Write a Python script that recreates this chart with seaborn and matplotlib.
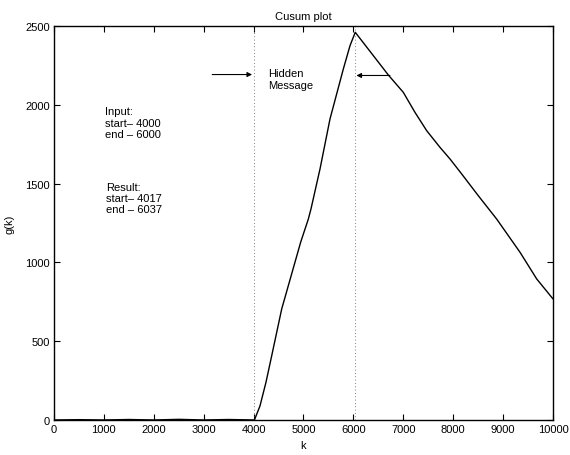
import matplotlib
matplotlib.use("Agg")
import matplotlib.pyplot as plt
import seaborn as sns
import pandas as pd

# ---- data ----
k_vals = [0, 500, 1000, 1500, 2000, 2500, 3000, 3500, 4017,
          4128, 4248, 4349, 4563, 4944, 5097, 5150, 5331, 5531, 5798, 5932, 6037,
          6700, 7000, 7234, 7468, 7735, 7936, 8170, 8503, 8871, 9339, 9673, 10000]
g_vals = [0, 2, 0, 3, 0, 4, 0, 3, 0,
          89, 239, 387, 704, 1129, 1275, 1339, 1593, 1910, 2227, 2375, 2460,
          2189, 2079, 1952, 1836, 1730, 1656, 1561, 1423, 1275, 1064, 895, 768]
marker_lines = [4017, 6037]
x_ticks = [0, 1000, 2000, 3000, 4000, 5000, 6000, 7000, 8000, 9000, 10000]
y_ticks = [0, 500, 1000, 1500, 2000, 2500]
input_text = "Input:\nstart\u2013 4000\nend \u2013 6000"
result_text = "Result:\nstart\u2013 4017\nend \u2013 6037"

sns.set_style("white")
plt.rcParams['font.family'] = ['Liberation Sans', 'DejaVu Sans']
plt.rcParams['text.color'] = 'black'
plt.rcParams['axes.labelcolor'] = 'black'

df = pd.DataFrame({"k": k_vals, "g": g_vals})

fig = plt.figure(figsize=(5.7, 4.56), dpi=100)
ax = fig.add_axes([0.0947, 0.0768, 0.8755, 0.864])

for m in marker_lines:
    ax.plot([m, m], [0, 2500], linestyle=(0, (1, 3)), color="#555555", lw=0.6, zorder=1)

sns.lineplot(data=df, x="k", y="g", ax=ax, color="black", lw=1.0, zorder=3)

ax.set_xlim(0, 10000)
ax.set_ylim(0, 2500)
ax.set_xticks(x_ticks)
ax.set_yticks(y_ticks)
ax.tick_params(direction="in", length=4, width=0.8, labelsize=8, top=True, right=True,
               bottom=True, left=True, colors="black", labelcolor="black", pad=3)
for s in ax.spines.values():
    s.set_visible(True)
    s.set_color("black")
    s.set_linewidth(1.0)

ax.set_title("Cusum plot", fontsize=8, pad=5, color="black")
ax.set_xlabel("k", fontsize=8, labelpad=4)
ax.set_ylabel("g(k)", fontsize=8, labelpad=8)

ax.text(4300, 2165, "Hidden\nMessage", fontsize=8, va="center", ha="left", linespacing=1.2)
arrow = dict(arrowstyle="-|>", color="black", lw=0.8, mutation_scale=7, shrinkA=0, shrinkB=0)
ax.annotate("", xy=(3970, 2192), xytext=(3170, 2192), arrowprops=arrow)
ax.annotate("", xy=(6060, 2186), xytext=(6733, 2186), arrowprops=arrow)

ax.text(1020, 1990, input_text, fontsize=8, va="top", ha="left", linespacing=1.15)
ax.text(1040, 1510, result_text, fontsize=8, va="top", ha="left", linespacing=1.15)

fig.savefig("out.png", dpi=100)
